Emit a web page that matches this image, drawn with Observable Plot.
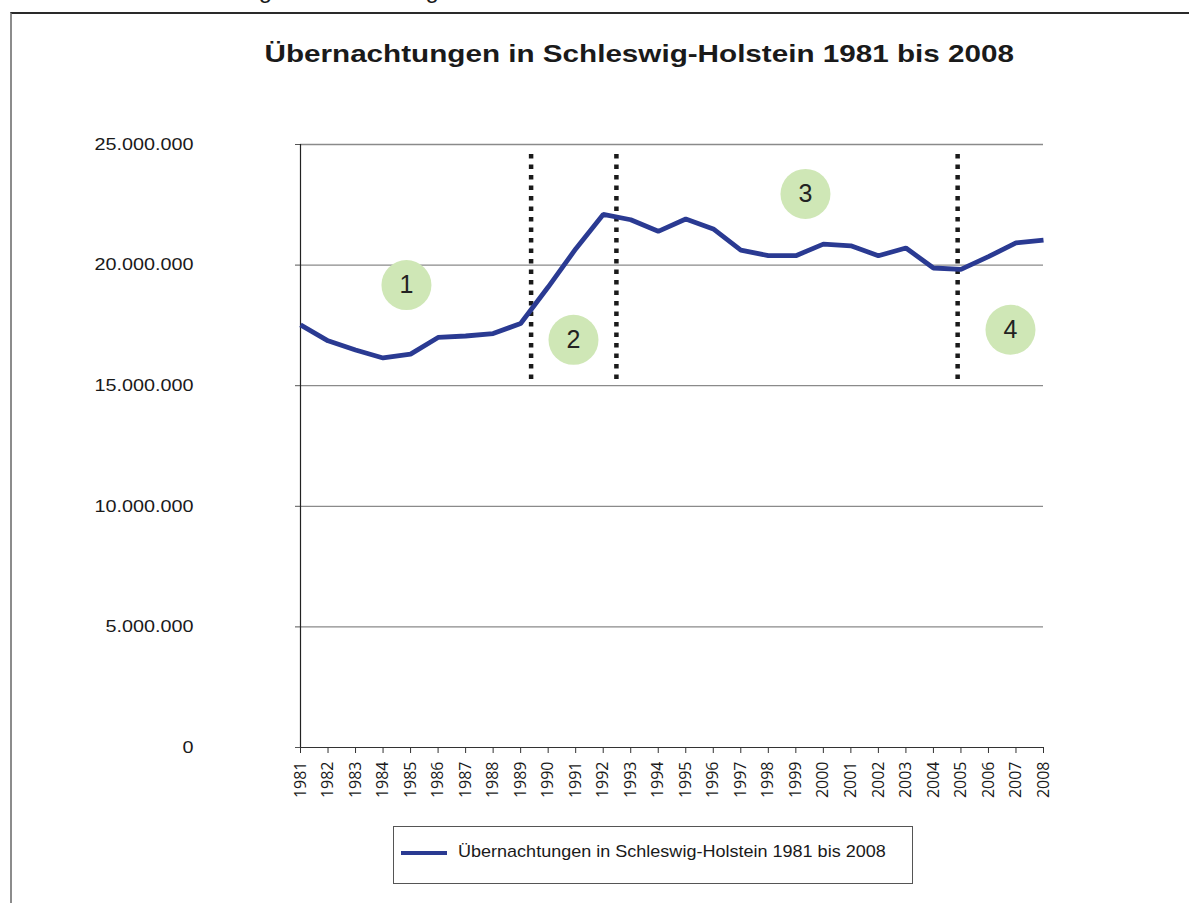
<!DOCTYPE html>
<html>
<head>
<meta charset="utf-8">
<script src="https://cdn.jsdelivr.net/npm/d3@7"></script>
<script src="https://cdn.jsdelivr.net/npm/@observablehq/plot@0.6"></script>
<style>
  html, body { margin: 0; padding: 0; background: #fff; overflow: hidden; }
  #page { position: relative; width: 1189px; height: 903px; overflow: hidden; background: #fff;
          font-family: "Liberation Sans", Arial, sans-serif; color: #1a1a1a; }
  #caption { position: absolute; left: 12px; top: -22px; font-size: 24px; line-height: 24px;
             white-space: nowrap; color: #1a1a1a; }
  #frame { position: absolute; left: 10px; top: 12px; width: 1300px; height: 1000px;
           border-left: 2px solid #8c8c8c; border-top: 2px solid #2a2a2a; box-sizing: border-box; background: #fff; }
  #chart { position: absolute; left: 0; top: 0; }
  #title { position: absolute; left: 335px; width: 600px; top: 42px; text-align: center;
           font-size: 24px; line-height: 24px; font-weight: bold; white-space: nowrap;
           transform: scaleX(1.235); transform-origin: center; color: #1a1a1a; }
  #legend { position: absolute; left: 393px; top: 826px; width: 520px; height: 58px;
            border: 1px solid #555; box-sizing: border-box; background: #fff; }
  #legend .sw { position: absolute; left: 7px; top: 24px; width: 46px; height: 4px; background: #2a3a92; }
  #legend .lt { position: absolute; left: 64px; top: 16px; font-size: 17px; line-height: 17px;
                white-space: nowrap; transform: scaleX(1.06); transform-origin: left center; color: #1a1a1a; }
</style>
</head>
<body>
<div id="page">
  <div id="caption">Tabelle 1: Übernachtungen in Schleswig-Holstein 1981 bis 2008 nach Phasen</div>
  <div id="frame"></div>
  <div id="chart"></div>
  <div id="title">Übernachtungen in Schleswig-Holstein 1981 bis 2008</div>
  <div id="legend"><span class="sw"></span><span class="lt">Übernachtungen in Schleswig-Holstein 1981 bis 2008</span></div>
</div>
<script>
// ---- Data ----
const years = [1981, 1982, 1983, 1984, 1985, 1986, 1987, 1988, 1989, 1990, 1991, 1992, 1993, 1994,
               1995, 1996, 1997, 1998, 1999, 2000, 2001, 2002, 2003, 2004, 2005, 2006, 2007, 2008];
const overnightStays = [17520000, 16860000, 16480000, 16150000, 16310000, 17000000, 17060000, 17160000,
                        17580000, 19090000, 20670000, 22100000, 21880000, 21400000, 21910000, 21500000,
                        20620000, 20390000, 20390000, 20870000, 20800000, 20390000, 20710000, 19880000,
                        19820000, 20350000, 20920000, 21040000];
const yTicks = [0, 5000000, 10000000, 15000000, 20000000, 25000000];
const phaseBreakYears = [1989.38, 1992.48, 2004.88];
const phaseBreakLow = 15260000;
const phaseBreakHigh = 24680000;
const phaseLabels = ["1", "2", "3", "4"];
const phaseLabelYear = [1984.85, 1990.92, 1999.35, 2006.8];
const phaseLabelValue = [19170000, 16900000, 22950000, 17320000];

// ---- Tables built from arrays ----
const series = years.map((year, i) => ({year, value: overnightStays[i]}));
const phases = phaseLabels.map((label, i) => ({label, x: phaseLabelYear[i], y: phaseLabelValue[i]}));
const breaks = phaseBreakYears.map(x => ({x, y1: phaseBreakLow, y2: phaseBreakHigh}));

const de = d3.formatLocale({decimal: ",", thousands: ".", grouping: [3], currency: ["", "€"]});
const fmt = de.format(",d");

const svg = Plot.plot({
  width: 1189,
  height: 903,
  marginLeft: 300,
  marginRight: 146,
  marginTop: 144,
  marginBottom: 156,
  style: {background: "transparent", overflow: "visible", fontFamily: "'Liberation Sans', Arial, sans-serif", color: "#1a1a1a"},
  x: {type: "linear", domain: [1981, 2008], label: null},
  y: {domain: [0, 25000000], label: null},
  marks: [
    Plot.ruleY(yTicks.filter(d => d > 0), {stroke: "#8a8a8a", strokeWidth: 1.3}),
    Plot.axisY(yTicks, {tickSize: 5, tickPadding: 102, tickFormat: fmt, fontSize: 16.5, stroke: "#555", fill: "#1a1a1a", label: null}),
    Plot.axisX(years, {tickRotate: -90, tickSize: 6, tickPadding: 8, fontSize: 16, tickFormat: d => String(d), stroke: "#333", fill: "#1a1a1a", label: null}),
    Plot.ruleY([0], {stroke: "#333", strokeWidth: 1.2}),
    Plot.ruleX([1981], {y1: 0, y2: 25000000, stroke: "#222", strokeWidth: 1.2}),
    Plot.ruleX(breaks, {x: "x", y1: "y1", y2: "y2", stroke: "#1a1a1a", strokeWidth: 4.5, strokeDasharray: "4.5,6"}),
    Plot.dot(phases, {x: "x", y: "y", r: 25, fill: "#cfe7b6", stroke: null}),
    Plot.text(phases, {x: "x", y: "y", text: "label", fontSize: 25, fill: "#222"}),
    Plot.lineY(series, {x: "year", y: "value", stroke: "#2a3a92", strokeWidth: 4.8, strokeLinejoin: "miter", strokeLinecap: "butt"})
  ]
});
document.getElementById("chart").appendChild(svg);

// widen y tick labels horizontally (reference text is stretched), keeping the right edge fixed
svg.querySelectorAll('[aria-label="y-axis tick label"] text').forEach(t => {
  const tr = t.getAttribute("transform") || "";
  const xa = t.getAttribute("x");
  const x = xa !== null && !isNaN(parseFloat(xa)) && !/[a-z%]/i.test(xa) ? parseFloat(xa) : 0;
  if (x !== 0) t.removeAttribute("x");
  t.setAttribute("transform", `${tr} translate(${x},0) scale(1.2,1)`);
});
svg.querySelectorAll('[aria-label="x-axis tick label"] text').forEach(t => {
  t.style.fontFamily = "'Open Sans', sans-serif";
});
</script>
</body>
</html>
